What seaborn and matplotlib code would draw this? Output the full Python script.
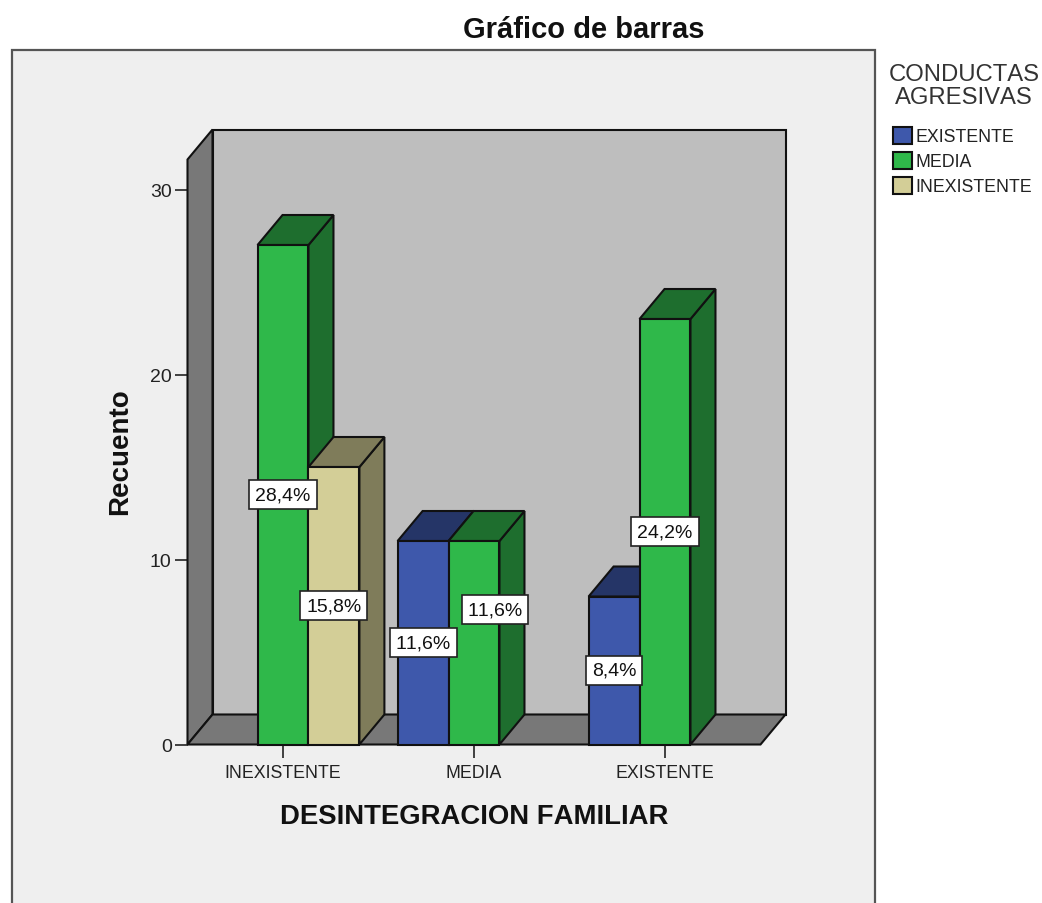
import matplotlib
matplotlib.use("Agg")
import matplotlib.pyplot as plt
from matplotlib.patches import Polygon, Rectangle
from matplotlib.transforms import IdentityTransform
import pandas as pd
import seaborn as sns

categories = ["INEXISTENTE", "MEDIA", "EXISTENTE"]
series_names = ["EXISTENTE", "MEDIA", "INEXISTENTE"]
existente = [None, 11, 8]
media = [27, 11, 23]
inexistente = [15, None, None]
pct_existente = [None, "11,6%", "8,4%"]
pct_media = ["28,4%", "11,6%", "24,2%"]
pct_inexistente = ["15,8%", None, None]
y_ticks = [0, 10, 20, 30]

W, H = 1042, 904
FRONT = {"EXISTENTE": "#3e58ab", "MEDIA": "#2fb84a", "INEXISTENTE": "#d3ce97"}
DARK = {"EXISTENTE": "#253567", "MEDIA": "#1e6e2e", "INEXISTENTE": "#7f7c5a"}
DEPTH_X, DEPTH_Y = 25, 30
AX_L, AX_R, AX_B, AX_T = 187.5, 760.5, 745.5, 160.5
Y_MAX = (AX_B - AX_T) / 18.5
FONT = "Liberation Sans"

rows = []
for s, vals, pcts in zip(series_names, [existente, media, inexistente],
                         [pct_existente, pct_media, pct_inexistente]):
    for c, v, p in zip(categories, vals, pcts):
        if v is not None:
            rows.append({"cat": c, "serie": s, "n": v, "pct": p})
df = pd.DataFrame(rows)
df["ci"] = df["cat"].map(categories.index)
df["si"] = df["serie"].map(series_names.index)
ordered = df.sort_values(["ci", "si"]).reset_index(drop=True)

sns.set_theme(style="white")
plt.rcParams["font.family"] = [FONT, "DejaVu Sans"]
plt.rcParams["text.kerning_factor"] = 10
fig = plt.figure(figsize=(W / 100, H / 100), dpi=100, facecolor="white")
fig.add_artist(Rectangle((12, -10), 863, H - 50.5 + 10, transform=IdentityTransform(),
                         facecolor="#efefef", edgecolor="#555555", linewidth=1.6, zorder=-5))
ax = fig.add_axes([AX_L / W, (H - AX_B) / H, (AX_R - AX_L) / W, (AX_B - AX_T) / H])
ax.patch.set_visible(False)

sns.barplot(data=df, x="cat", y="n", hue="serie", order=categories, hue_order=series_names,
            palette=FRONT, saturation=1, width=0.8, gap=0, errorbar=None,
            edgecolor="#111111", linewidth=1.5, ax=ax, legend=True)
ax.set_xlim(-0.5, 2.5)
ax.set_ylim(0, Y_MAX)
ax.autoscale(False)
for sp in ax.spines.values():
    sp.set_visible(False)

dx = DEPTH_X * 3 / (AX_R - AX_L)
dy = DEPTH_Y / 18.5
x0, x1 = -0.5, 2.5
walls = [
    ([(x0 + dx, dy), (x1 + dx, dy), (x1 + dx, Y_MAX + dy), (x0 + dx, Y_MAX + dy)], "#bebebe"),
    ([(x0, 0), (x0 + dx, dy), (x0 + dx, Y_MAX + dy), (x0, Y_MAX)], "#787878"),
    ([(x0, 0), (x1, 0), (x1 + dx, dy), (x0 + dx, dy)], "#787878"),
]
for pts, col in walls:
    ax.add_patch(Polygon(pts, closed=True, facecolor=col, edgecolor="#111111",
                         linewidth=1.5, clip_on=False, zorder=1))

bars = sorted([b for c in ax.containers for b in c], key=lambda b: b.get_x())
for i, (bar, row) in enumerate(zip(bars, ordered.itertuples())):
    z = 3 + i
    bx, bw, bh = bar.get_x(), bar.get_width(), bar.get_height()
    bar.set_zorder(z + 0.5)
    bar.set_clip_on(False)
    side = [(bx + bw, 0), (bx + bw + dx, dy), (bx + bw + dx, bh + dy), (bx + bw, bh)]
    top = [(bx, bh), (bx + dx, bh + dy), (bx + bw + dx, bh + dy), (bx + bw, bh)]
    for pts in (side, top):
        ax.add_patch(Polygon(pts, closed=True, facecolor=DARK[row.serie], edgecolor="#111111",
                             linewidth=1.5, clip_on=False, zorder=z))
    shifted = row.cat == "MEDIA" and row.serie == "MEDIA"
    off = (21 * 0.72, 33 * 0.72) if shifted else (0, 0)
    ax.annotate(row.pct, (bx + bw / 2, bh / 2), xytext=off, textcoords="offset points",
                ha="center", va="center", fontsize=14, color="#111111", zorder=30,
                bbox=dict(boxstyle="square,pad=0.3", facecolor="white",
                          edgecolor="#222222", linewidth=1.2))

ax.set_yticks(y_ticks)
ax.set_yticklabels([str(t) for t in y_ticks])
ax.tick_params(axis="y", length=9.4, width=1.2, color="#222222", labelsize=14, pad=2,
               labelcolor="#222222", left=True)
ax.tick_params(axis="x", length=9.4, width=1.2, color="#222222", labelsize=12.8, pad=5,
               labelcolor="#222222", bottom=True)
ax.set_xlabel("DESINTEGRACION FAMILIAR", fontsize=19.8, fontweight="bold", color="#111111")
ax.xaxis.set_label_coords(0.5, -(817 - AX_B) / (AX_B - AX_T))
ax.xaxis.label.set_va("center")
ax.set_ylabel("Recuento", fontsize=20, fontweight="bold", color="#111111")
ax.yaxis.set_label_coords((120 - AX_L) / (AX_R - AX_L), (AX_B - 452) / (AX_B - AX_T))
ax.yaxis.label.set_va("center")

fig.text(584 / W, 1 - 30 / H, "Gráfico de barras", fontsize=21, fontweight="bold",
         ha="center", va="center", color="#111111")

handles, labels = ax.get_legend_handles_labels()
ax.get_legend().remove()
fig.text(964 / W, 1 - 75 / H, "CONDUCTAS", fontsize=17.2, ha="center", va="center", color="#333333")
fig.text(964 / W, 1 - 98 / H, "AGRESIVAS", fontsize=17.2, ha="center", va="center", color="#333333")
leg = fig.legend(handles, labels, loc="upper left",
                 bbox_to_anchor=(893 / W, 1 - 128 / H), frameon=False, fontsize=12.8,
                 handlelength=1.08, handleheight=1.08,
                 handletextpad=0.2, labelspacing=0.36, borderpad=0, borderaxespad=0)
for t in leg.get_texts():
    t.set_color("#222222")

fig.savefig("out.png", dpi=100, facecolor="white")
